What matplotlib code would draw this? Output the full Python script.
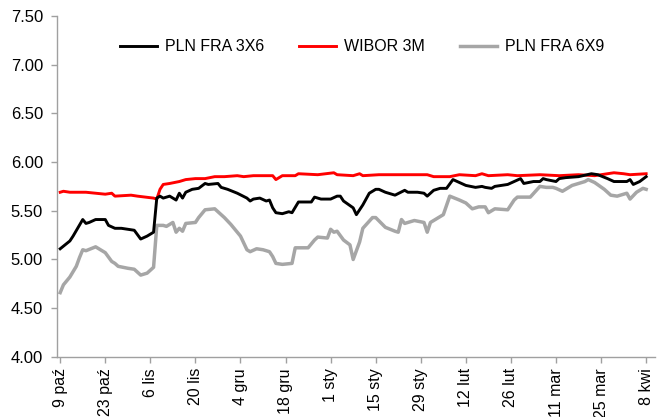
import numpy as np
import pandas as pd
import matplotlib
matplotlib.use("Agg")
import matplotlib.pyplot as plt

plt.rcParams['font.family'] = ['Liberation Sans', 'DejaVu Sans']

start = pd.Timestamp("2011-10-09")

# PLN FRA 3X6: (days after 9 Oct, value)
d_3x6 = [0, 3, 4, 7, 8, 9, 11, 14, 15, 17, 19, 23, 25, 27, 29, 30, 31, 32, 33, 34,
         36, 37, 38, 39, 41, 43, 45, 46, 49, 50, 52, 55, 58, 59, 60, 62, 64, 65, 66, 67,
         69, 71, 72, 74, 78, 79, 81, 84, 86, 87, 88, 91, 92, 94, 96, 98, 99, 101, 104, 107,
         108, 111, 113, 114, 116, 118, 120, 122, 124, 126, 129, 131, 132, 134, 135, 137, 139, 143, 144, 147,
         149, 150, 151, 154, 155, 157, 161, 165, 167, 170, 172, 176, 177, 178, 180, 182]
v_3x6 = [5.11, 5.19, 5.24, 5.41, 5.37, 5.38, 5.41, 5.41, 5.35, 5.32, 5.32, 5.30, 5.21, 5.24, 5.28, 5.63, 5.65, 5.63, 5.64, 5.65,
         5.61, 5.68, 5.63, 5.69, 5.72, 5.73, 5.78, 5.77, 5.78, 5.74, 5.72, 5.68, 5.63, 5.60, 5.62, 5.63, 5.60, 5.61, 5.53, 5.48,
         5.47, 5.49, 5.48, 5.59, 5.59, 5.64, 5.62, 5.62, 5.65, 5.65, 5.60, 5.53, 5.46, 5.56, 5.68, 5.72, 5.72, 5.69, 5.66, 5.71,
         5.69, 5.69, 5.68, 5.65, 5.71, 5.73, 5.73, 5.82, 5.79, 5.76, 5.74, 5.75, 5.74, 5.73, 5.75, 5.76, 5.77, 5.83, 5.78, 5.80,
         5.80, 5.83, 5.82, 5.80, 5.83, 5.84, 5.85, 5.88, 5.87, 5.83, 5.80, 5.80, 5.82, 5.77, 5.80, 5.85]

# WIBOR 3M
d_wibor = [0, 1, 3, 8, 14, 16, 17, 22, 24, 29, 30, 31, 32, 34, 37, 39, 42, 45, 48, 51,
           55, 57, 60, 66, 67, 69, 73, 74, 80, 85, 86, 91, 93, 94, 99, 114, 116, 121, 124, 129,
           131, 133, 139, 142, 149, 155, 161, 166, 170, 172, 175, 177, 182]
v_wibor = [5.69, 5.70, 5.69, 5.69, 5.67, 5.68, 5.65, 5.66, 5.65, 5.63, 5.62, 5.72, 5.77, 5.78, 5.80, 5.82, 5.83, 5.83, 5.85, 5.85,
           5.86, 5.85, 5.86, 5.86, 5.82, 5.86, 5.86, 5.88, 5.87, 5.89, 5.87, 5.86, 5.88, 5.86, 5.87, 5.87, 5.85, 5.85, 5.87, 5.86,
           5.88, 5.86, 5.87, 5.86, 5.87, 5.86, 5.87, 5.86, 5.88, 5.89, 5.88, 5.87, 5.88]

# PLN FRA 6X9
d_6x9 = [0, 1, 3, 5, 6, 7, 8, 11, 12, 14, 16, 17, 18, 21, 23, 25, 27, 29, 30, 32,
         33, 35, 36, 37, 38, 39, 42, 43, 45, 48, 51, 53, 56, 58, 59, 61, 63, 65, 66, 67,
         69, 72, 73, 77, 79, 80, 83, 84, 85, 86, 88, 90, 91, 93, 94, 97, 98, 101, 104, 105,
         106, 107, 110, 113, 114, 115, 119, 121, 124, 126, 128, 130, 132, 133, 135, 139, 141, 142, 146, 149,
         151, 153, 154, 156, 159, 163, 164, 166, 169, 171, 173, 176, 177, 179, 181, 182]
v_6x9 = [4.66, 4.74, 4.82, 4.93, 5.02, 5.10, 5.09, 5.13, 5.11, 5.07, 4.98, 4.96, 4.93, 4.91, 4.90, 4.84, 4.86, 4.92, 5.35, 5.35,
         5.34, 5.38, 5.28, 5.32, 5.29, 5.37, 5.38, 5.43, 5.51, 5.52, 5.43, 5.36, 5.24, 5.10, 5.08, 5.11, 5.10, 5.08, 5.03, 4.96,
         4.95, 4.96, 5.12, 5.12, 5.20, 5.23, 5.22, 5.31, 5.28, 5.29, 5.20, 5.15, 5.00, 5.18, 5.32, 5.43, 5.43, 5.33, 5.29, 5.28,
         5.41, 5.37, 5.40, 5.38, 5.28, 5.38, 5.46, 5.65, 5.61, 5.58, 5.52, 5.54, 5.54, 5.48, 5.52, 5.51, 5.61, 5.64, 5.64, 5.75,
         5.74, 5.74, 5.73, 5.70, 5.76, 5.80, 5.82, 5.79, 5.72, 5.66, 5.65, 5.68, 5.62, 5.69, 5.73, 5.72]

tick_labels = ["9 paź", "23 paź", "6 lis", "20 lis", "4 gru", "18 gru", "1 sty",
               "15 sty", "29 sty", "12 lut", "26 lut", "11 mar", "25 mar", "8 kwi"]

def to_dates(days):
    return start + pd.to_timedelta(days, unit="D")

fig = plt.figure(figsize=(6.68, 4.17), dpi=100)
ax = fig.add_axes([0.0853, 0.144, 0.895, 0.818])

ax.plot(to_dates(d_3x6), v_3x6, color="black", lw=2.1, label="PLN FRA 3X6", zorder=3)
ax.plot(to_dates(d_wibor), v_wibor, color="#ff0000", lw=2.1, label="WIBOR 3M", zorder=2)
ax.plot(to_dates(d_6x9), v_6x9, color="#a6a6a6", lw=2.5, label="PLN FRA 6X9", zorder=1)

ax.set_ylim(4.0, 7.5)
ax.set_yticks(np.arange(4.0, 7.51, 0.5))
ax.yaxis.set_major_formatter(matplotlib.ticker.FormatStrFormatter("%.2f"))

ticks = to_dates(np.arange(len(tick_labels)) * 14)
ax.set_xticks(ticks)
ax.set_xticklabels(tick_labels, rotation=90, fontsize=11.5)
ax.set_xlim(start - pd.Timedelta(days=1), start + pd.Timedelta(days=184.7))

for s in ["top", "right"]:
    ax.spines[s].set_visible(False)
for s in ["left", "bottom"]:
    ax.spines[s].set_color("#a0a0a0")
    ax.spines[s].set_linewidth(1.0)
ax.tick_params(axis="both", colors="#a0a0a0", labelcolor="black", length=4, width=1.0)
ax.tick_params(axis="y", labelsize=12, pad=6)
ax.tick_params(axis="x", pad=4)

ax.legend(loc="center", bbox_to_anchor=(0.51, 0.909), ncol=3, frameon=False,
          fontsize=11.5, handlelength=2.3, columnspacing=2.2, handletextpad=0.5)

fig.savefig("out.png", dpi=100)
